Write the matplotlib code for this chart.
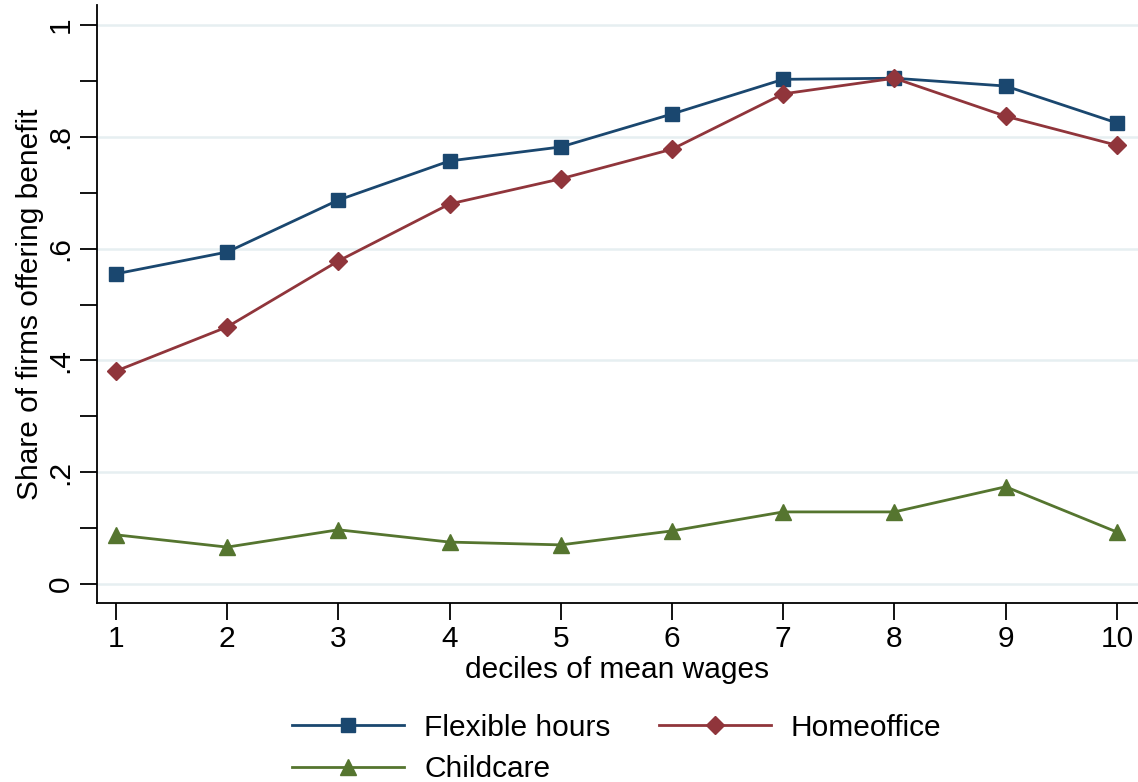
import matplotlib
matplotlib.use("Agg")
import matplotlib.pyplot as plt
import numpy as np

plt.rcParams['font.family'] = ['Liberation Sans', 'DejaVu Sans']

deciles = [1, 2, 3, 4, 5, 6, 7, 8, 9, 10]
flexible_hours = [0.555, 0.594, 0.687, 0.757, 0.782, 0.841, 0.903, 0.905, 0.891, 0.825]
homeoffice = [0.381, 0.460, 0.578, 0.680, 0.725, 0.778, 0.877, 0.905, 0.837, 0.785]
childcare = [0.088, 0.066, 0.097, 0.075, 0.070, 0.095, 0.129, 0.129, 0.174, 0.093]
y_ticks = [0, 0.2, 0.4, 0.6, 0.8, 1.0]
y_ticklabels = ['0', '.2', '.4', '.6', '.8', '1']

FS = 21.5

fig = plt.figure(figsize=(11.38, 7.82), dpi=100)
ax = fig.add_axes([0.0852, 0.2289, 0.9148, 0.7647])

h1, = ax.plot(deciles, flexible_hours, color='#1a476f', marker='s', markersize=10, lw=2, label='Flexible hours')
h2, = ax.plot(deciles, homeoffice, color='#90353b', marker='D', markersize=9, lw=2, label='Homeoffice')
h3, = ax.plot(deciles, childcare, color='#55752f', marker='^', markersize=11, lw=2, label='Childcare')

ax.set_xlim(0.829, 10.19)
ax.set_ylim(-0.034, 1.036)
ax.set_xticks(deciles)
ax.set_yticks(y_ticks)
ax.set_yticklabels(y_ticklabels)
ax.set_yticks([0.1, 0.3, 0.5, 0.7, 0.9], minor=True)
ax.yaxis.grid(True, color='#e6eff1', lw=1.8)
ax.set_axisbelow(True)
for s in ['top', 'right']:
    ax.spines[s].set_visible(False)
ax.spines['left'].set_linewidth(1.3)
ax.spines['bottom'].set_linewidth(1.3)
ax.tick_params(axis='both', labelsize=FS, length=12, width=1.3, pad=4)
ax.tick_params(axis='y', which='minor', length=12, width=1.3)
ax.tick_params(axis='y', labelrotation=90)
for lbl in ax.get_yticklabels():
    lbl.set_va('center')
ax.set_xlabel('deciles of mean wages', fontsize=FS, labelpad=2)
ax.set_ylabel('Share of firms offering benefit', fontsize=FS, labelpad=2)

fig.legend([h1, h3, h2], ['Flexible hours', 'Childcare', 'Homeoffice'],
           loc='lower center', bbox_to_anchor=(0.542, -0.036), ncol=2, frameon=False,
           fontsize=FS, handlelength=3.75, columnspacing=1.6, handletextpad=0.67,
           labelspacing=0.45)

fig.savefig('out.png', dpi=100)
